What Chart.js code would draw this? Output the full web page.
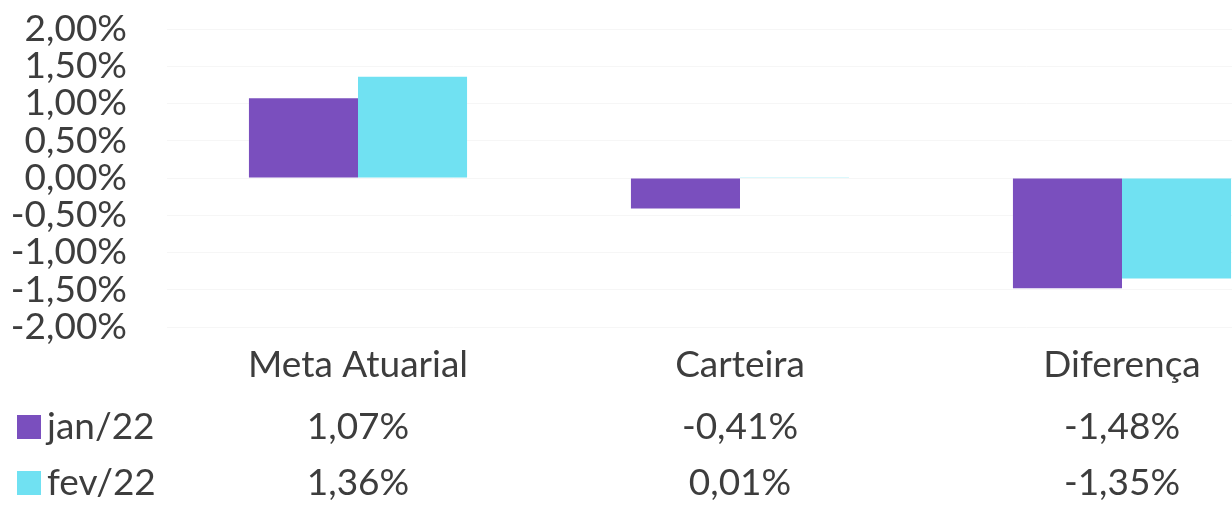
<!DOCTYPE html>
<html>
<head>
<meta charset="utf-8">
<script src="https://cdn.jsdelivr.net/npm/chart.js@4/dist/chart.umd.min.js"></script>
<style>
  html, body { margin: 0; padding: 0; background: #fff; overflow: hidden; }
  #wrap { width: 1232px; height: 505px; overflow: hidden; }
  #box { width: 1320px; height: 505px; }
</style>
</head>
<body>
<div id="wrap"><div id="box"><canvas id="chart"></canvas></div></div>
<script>
// chart data
const categories = ['Meta Atuarial', 'Carteira', 'Diferença']
const seriesNames = ['jan/22', 'fev/22']
const jan22 = [1.07, -0.41, -1.48]
const fev22 = [1.36, 0.01, -1.35]
const yTicks = [2, 1.5, 1, 0.5, 0, -0.5, -1, -1.5, -2]

const purple = '#7a4fbe'
const cyan = '#70e1f2'
const textColor = '#3d3d3d'
const fontFamily = 'Lato, "Open Sans", sans-serif'

const pct = v => v.toFixed(2).replace('.', ',') + '%'

// draws the data table under the axis (legend keys + values)
const dataTable = {
  id: 'dataTable',
  afterDraw(chart) {
    const ctx = chart.ctx
    const x = chart.scales.x
    const rowsY = [427, 483]
    ctx.save()
    ctx.font = `37px ${fontFamily}`
    ctx.fillStyle = textColor
    ctx.textBaseline = 'middle'
    chart.data.datasets.forEach((ds, r) => {
      const y = rowsY[r]
      ctx.fillStyle = ds.backgroundColor
      ctx.fillRect(17, y - 12, 24, 24)
      ctx.fillStyle = textColor
      ctx.textAlign = 'left'
      ctx.fillText(ds.label, 47, y)
      ctx.textAlign = 'center'
      ds.data.forEach((v, i) => {
        ctx.fillText(pct(v), x.getPixelForValue(i), y)
      })
    })
    ctx.restore()
  }
}

new Chart(document.getElementById('chart'), {
  type: 'bar',
  data: {
    labels: categories,
    datasets: [
      { label: seriesNames[0], data: jan22, backgroundColor: purple },
      { label: seriesNames[1], data: fev22, backgroundColor: cyan }
    ]
  },
  options: {
    responsive: true,
    maintainAspectRatio: false,
    animation: false,
    categoryPercentage: 0.571,
    barPercentage: 1,
    layout: { padding: { top: 29, right: 7, bottom: 0, left: 0 } },
    plugins: {
      legend: { display: false },
      tooltip: { enabled: false }
    },
    scales: {
      x: {
        grid: { display: false, drawTicks: false },
        border: { display: false },
        ticks: {
          color: textColor,
          font: { family: fontFamily, size: 37 },
          padding: 16,
          maxRotation: 0
        },
        afterFit: scale => { scale.height = 178 }
      },
      y: {
        min: -2,
        max: 2,
        afterBuildTicks: scale => { scale.ticks = yTicks.map(v => ({ value: v })) },
        grid: { color: 'rgba(0,0,0,0.035)', drawTicks: false },
        border: { display: false },
        ticks: {
          color: textColor,
          font: { family: fontFamily, size: 37, lineHeight: 1 },
          padding: 40,
          autoSkip: false,
          callback: v => pct(v)
        },
        afterFit: scale => {
          scale.width = 167
          scale.paddingTop = 0
          scale.paddingBottom = 0
        }
      }
    }
  },
  plugins: [dataTable]
})
</script>
</body>
</html>
